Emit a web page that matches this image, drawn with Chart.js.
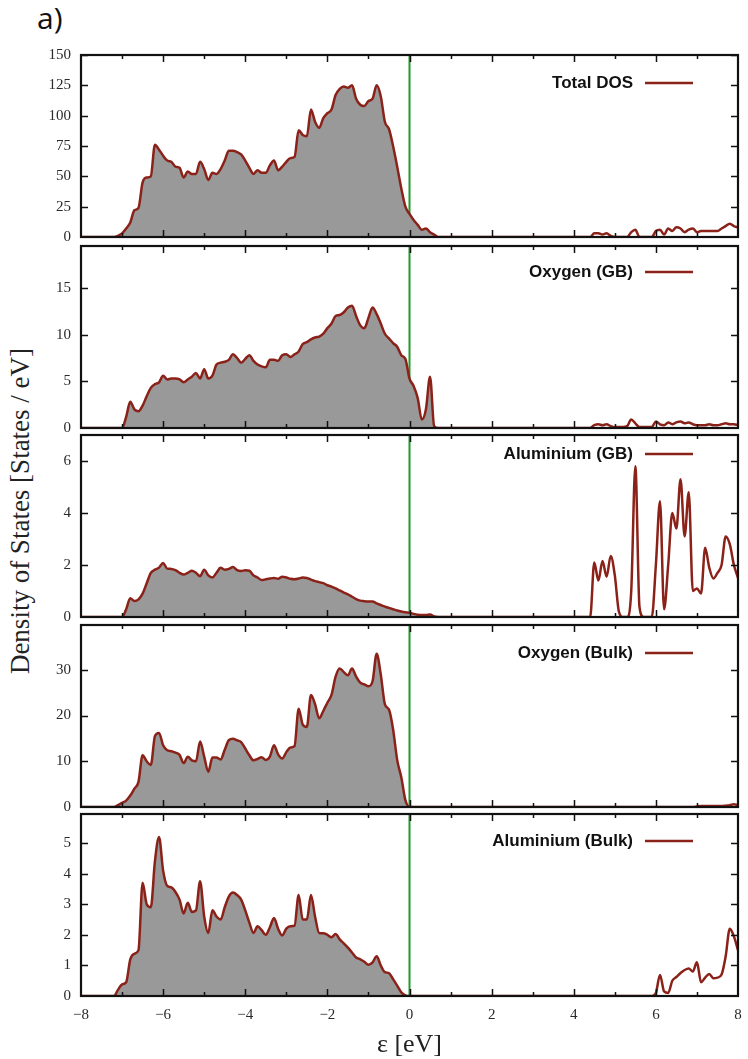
<!DOCTYPE html>
<html>
<head>
<meta charset="utf-8">
<title>Density of States</title>
<script src="https://cdn.jsdelivr.net/npm/chart.js@4.4.1/dist/chart.umd.min.js"></script>
<style>
  html, body { margin: 0; padding: 0; background: #fff; }
  #figure { position: relative; width: 748px; height: 1059px; overflow: hidden; }
  #figure canvas { position: absolute; left: 0; }
  #tag { position: absolute; left: 37px; top: 3px; font: 30px "Open Sans"; line-height: 30px; color: #111; }
  #ytitle {
    position: absolute; left: 20px; top: 511px; width: 420px; margin-left: -210px;
    text-align: center; white-space: nowrap;
    transform: translateY(-50%) rotate(-90deg);
    font: 27px "Liberation Serif"; color: #222;
  }
</style>
</head>
<body>
<div id="figure">
  <div id="tag">a)</div>
  <div id="ytitle">Density of States [States / eV]</div>
</div>
<script>
// energy grid, -8 .. 8 eV in 0.1 eV steps
const energies = [];
for (let i = 0; i <= 160; i++) energies.push((i - 80) / 10);

const fermiLevel = 0;
const fillEnd = 0.7; // grey area = occupied band, up to the gap

// DOS values, one per energy above
const totalDos = [
  0, 0, 0, 0, 0, 0, 0, 0, 0,                      // -8.0 .. -7.2
  1, 3, 7, 12, 22, 24, 45, 49, 50, 76,            // -7.1 .. -6.2
  72, 67, 63, 62, 58, 57, 49, 54, 52, 52,         // -6.1 .. -5.2
  62, 56, 47, 53, 52, 56, 63, 71, 71, 70,         // -5.1 .. -4.2
  68, 63, 57, 52, 55, 53, 53, 59, 63, 55,         // -4.1 .. -3.2
  58, 62, 65, 66, 88, 84, 83, 105, 95, 90,        // -3.1 .. -2.2
  98, 102, 105, 117, 122, 124, 123, 125, 114, 109, // -2.1 .. -1.2
  108, 112, 114, 125, 116, 95, 89, 75, 58, 40,    // -1.1 .. -0.2
  25, 19, 14, 10, 6, 7, 4, 2, 0,                  // -0.1 .. 0.7
  0, 0, 0, 0, 0, 0, 0, 0, 0, 0,                   // 0.8 .. 4.4
  0, 0, 0, 0, 0, 0, 0, 0, 0, 0,
  0, 0, 0, 0, 0, 0, 0, 0, 0, 0,
  0, 0, 0, 0, 0, 0, 0,
  3, 3, 2, 3, 1, 0, 0, 0, 0, 4,                   // 4.5 .. 5.4
  6, 0, 0, 0, 0, 5, 6, 2, 7, 5,                   // 5.5 .. 6.4
  8, 7, 4, 6, 7, 4, 5, 5, 5, 5,                   // 6.5 .. 7.4
  5, 7, 9, 11, 9, 8                               // 7.5 .. 8.0
];

const oxygenGB = [
  0, 0, 0, 0, 0, 0, 0, 0, 0,
  0, 0, 1.2, 2.8, 2.0, 1.8, 2.4, 3.4, 4.3, 4.7,
  4.9, 5.6, 5.2, 5.3, 5.3, 5.2, 4.9, 5.2, 5.5, 5.9,
  5.3, 6.3, 5.3, 5.6, 6.8, 7.0, 7.1, 7.3, 7.9, 7.5,
  7.0, 7.4, 7.8, 7.2, 6.8, 6.6, 6.5, 7.3, 7.3, 7.2,
  7.8, 7.9, 7.6, 7.9, 8.2, 9.0, 9.2, 9.5, 9.7, 9.8,
  10.1, 10.7, 11.2, 12.0, 12.1, 12.4, 12.9, 13.1, 12.0, 11.0,
  10.7, 11.8, 12.9, 12.2, 11.2, 10.1, 9.6, 9.1, 8.7, 7.8,
  7.4, 5.3, 4.5, 3.2, 0.9, 2.0, 5.5, 0.2, 0,
  0, 0, 0, 0, 0, 0, 0, 0, 0, 0,
  0, 0, 0, 0, 0, 0, 0, 0, 0, 0,
  0, 0, 0, 0, 0, 0, 0, 0, 0, 0,
  0, 0, 0, 0, 0, 0, 0,
  0.3, 0.4, 0.3, 0.4, 0.2, 0.1, 0.1, 0.1, 0.2, 0.9,
  0.5, 0.1, 0.1, 0.1, 0.1, 0.7, 0.4, 0.3, 0.6, 0.4,
  0.6, 0.7, 0.5, 0.6, 0.4, 0.3, 0.3, 0.3, 0.4, 0.3,
  0.3, 0.4, 0.5, 0.4, 0.4, 0.3
];

const aluminiumGB = [
  0, 0, 0, 0, 0, 0, 0, 0, 0,
  0, 0, 0.3, 0.72, 0.62, 0.68, 0.9, 1.3, 1.7, 1.82,
  1.9, 2.08, 1.86, 1.85, 1.8, 1.7, 1.63, 1.7, 1.78, 1.7,
  1.57, 1.82, 1.6, 1.52, 1.7, 1.89, 1.82, 1.85, 1.92, 1.8,
  1.77, 1.8, 1.78, 1.6, 1.52, 1.42, 1.45, 1.48, 1.5, 1.47,
  1.55, 1.52, 1.47, 1.45, 1.48, 1.52, 1.5, 1.44, 1.38, 1.34,
  1.3, 1.22, 1.17, 1.1, 1.02, 0.94, 0.87, 0.78, 0.69, 0.63,
  0.61, 0.6, 0.6, 0.52, 0.46, 0.4, 0.35, 0.3, 0.25, 0.21,
  0.18, 0.16, 0.12, 0.09, 0.08, 0.08, 0.1, 0.02, 0,
  0, 0, 0, 0, 0, 0, 0, 0, 0, 0,
  0, 0, 0, 0, 0, 0, 0, 0, 0, 0,
  0, 0, 0, 0, 0, 0, 0, 0, 0, 0,
  0, 0, 0, 0, 0, 0, 0,
  2.1, 1.4, 2.15, 1.55, 2.35, 1.6, 0.2, 0, 0, 1.0,
  5.8, 0.4, 0, 0, 0, 2.0, 4.45, 0.3, 2.0, 4.0,
  3.4, 5.3, 3.1, 4.8, 1.0, 1.1, 0.9, 2.66, 1.9, 1.48,
  1.7, 2.0, 3.1, 2.8, 2.0, 1.5
];

const oxygenBulk = [
  0, 0, 0, 0, 0, 0, 0, 0, 0,
  0.4, 0.9, 1.4, 2.5, 4.0, 5.5, 11.3, 10.0, 9.2, 15.5,
  16.2, 13.5, 12.4, 12.2, 11.9, 11.4, 9.6, 11.0, 10.2, 10.0,
  14.3, 11.0, 7.7, 10.8, 10.8, 10.4, 12.5, 14.6, 14.9, 14.6,
  14.2, 12.8, 11.3, 10.2, 10.5, 10.9, 10.3, 11.0, 13.5, 11.5,
  10.6, 12.0, 13.0, 13.3, 21.5, 18.0, 17.5, 24.5, 22.5, 19.4,
  21.0, 22.8, 24.5, 28.5, 30.3, 29.5, 28.8, 30.3, 28.5, 27.2,
  26.8, 26.4, 27.5, 33.5, 29.0, 22.5, 21.3, 17.0, 10.3, 6.5,
  1.5, 0, 0, 0, 0, 0, 0, 0, 0,
  0, 0, 0, 0, 0, 0, 0, 0, 0, 0,                   // 0.8 .. 6.9
  0, 0, 0, 0, 0, 0, 0, 0, 0, 0,
  0, 0, 0, 0, 0, 0, 0, 0, 0, 0,
  0, 0, 0, 0, 0, 0, 0, 0, 0, 0,
  0, 0, 0, 0, 0, 0, 0, 0, 0, 0,
  0, 0, 0, 0, 0, 0, 0, 0, 0, 0,
  0, 0,
  0.1, 0.2, 0.2, 0.2, 0.2, 0.2, 0.2, 0.3, 0.4, 0.6, // 7.0 .. 7.9
  0.4
];

const aluminiumBulk = [
  0, 0, 0, 0, 0, 0, 0, 0, 0,
  0.2, 0.38, 0.45, 1.2, 1.38, 1.5, 3.7, 3.0, 2.9, 4.4,
  5.2, 4.1, 3.6, 3.55, 3.4, 3.15, 2.7, 3.05, 2.75, 2.8,
  3.75, 2.6, 2.06, 2.8, 2.6, 2.5, 2.9, 3.25, 3.38, 3.3,
  3.15, 2.8, 2.4, 2.06, 2.28, 2.15, 2.0, 2.25, 2.55, 2.2,
  1.98, 2.2, 2.28, 2.3, 3.3, 2.5, 2.5, 3.3, 2.6, 2.06,
  2.05, 2.0, 1.92, 2.03, 1.85, 1.72, 1.58, 1.42, 1.26, 1.2,
  1.12, 1.02, 1.1, 1.3, 1.0, 0.78, 0.75, 0.55, 0.34, 0.12,
  0.02, 0, 0, 0, 0, 0, 0, 0, 0,
  0, 0, 0, 0, 0, 0, 0, 0, 0, 0,                   // 0.8 .. 5.9
  0, 0, 0, 0, 0, 0, 0, 0, 0, 0,
  0, 0, 0, 0, 0, 0, 0, 0, 0, 0,
  0, 0, 0, 0, 0, 0, 0, 0, 0, 0,
  0, 0, 0, 0, 0, 0, 0, 0, 0, 0,
  0, 0,
  0.1, 0.69, 0.15, 0.1, 0.5, 0.62, 0.75, 0.85, 0.9, 0.8, // 6.0 .. 6.9
  1.1, 0.45, 0.6, 0.72, 0.58, 0.6, 0.7, 1.3, 2.2, 1.95, // 7.0 .. 7.9
  1.5
];

const panelLabels = ["Total DOS", "Oxygen (GB)", "Aluminium (GB)", "Oxygen (Bulk)", "Aluminium (Bulk)"];
const panelSeries = [totalDos, oxygenGB, aluminiumGB, oxygenBulk, aluminiumBulk];
const yMax = [150, 19.5, 7, 39.8, 5.95];
const yStep = [25, 5, 2, 10, 1];

panelSeries.forEach((s, i) => {
  if (s.length !== energies.length) throw new Error(panelLabels[i] + ": " + s.length + " values");
});

// layout (pixels)
const panelTop = [55, 246, 435, 625, 814];
const panelH = 182;
const pad = 19; // y tick padding + half a label: chart.js keeps this much round the plot
const legendOffset = [28, 26, 19, 28, 27];

const lineColor = "#8b2219";

// green Fermi line, border, inward ticks and the key
const panelFrame = {
  id: "panelFrame",
  beforeDatasetsDraw(chart) {
    const { ctx, chartArea: a } = chart;
    const px = chart.scales.x.getPixelForValue(fermiLevel);
    ctx.save();
    ctx.strokeStyle = "#1e9a28";
    ctx.lineWidth = 2;
    ctx.beginPath();
    ctx.moveTo(px, a.top);
    ctx.lineTo(px, a.bottom);
    ctx.stroke();
    ctx.restore();
  },
  afterDraw(chart, args, opts) {
    const { ctx, chartArea: a } = chart;
    const x = chart.scales.x, y = chart.scales.y;
    ctx.save();
    ctx.strokeStyle = "#111";
    ctx.lineWidth = 1.5;
    ctx.beginPath();
    for (let v = -7; v <= 7; v++) {
      const px = Math.round(x.getPixelForValue(v)) + 0.5;
      const len = v % 2 === 0 ? 7 : 4;
      ctx.moveTo(px, a.top); ctx.lineTo(px, a.top + len);
      ctx.moveTo(px, a.bottom); ctx.lineTo(px, a.bottom - len);
    }
    y.ticks.forEach(t => {
      if (t.value <= 0) return;
      const py = Math.round(y.getPixelForValue(t.value)) + 0.5;
      ctx.moveTo(a.left, py); ctx.lineTo(a.left + 7, py);
      ctx.moveTo(a.right, py); ctx.lineTo(a.right - 7, py);
    });
    ctx.stroke();

    ctx.lineWidth = 2.2;
    ctx.strokeRect(a.left, a.top, a.right - a.left, a.bottom - a.top);

    const ly = a.top + opts.legendY;
    ctx.font = 'bold 17px "Liberation Sans"';
    ctx.fillStyle = "#111";
    ctx.textAlign = "right";
    ctx.textBaseline = "middle";
    ctx.fillText(opts.label, a.right - 105, ly);
    ctx.strokeStyle = lineColor;
    ctx.lineWidth = 2.5;
    ctx.beginPath();
    ctx.moveTo(a.right - 93, ly);
    ctx.lineTo(a.right - 45, ly);
    ctx.stroke();
    ctx.restore();
  }
};

Chart.defaults.font.family = '"Liberation Serif"';
Chart.defaults.color = "#2a2a2a";

const fig = document.getElementById("figure");

panelSeries.forEach((series, i) => {
  const last = i === panelSeries.length - 1;
  const top = panelTop[i] - pad;
  const h = last ? 1059 - top : panelH + 2 * pad;
  const canvas = document.createElement("canvas");
  canvas.width = 748;
  canvas.height = h;
  canvas.style.top = top + "px";
  canvas.style.width = "748px";
  canvas.style.height = h + "px";
  fig.appendChild(canvas);

  const points = energies.map((e, k) => ({ x: e, y: series[k] }));
  const occupied = points.filter(p => p.x <= fillEnd + 1e-9);

  new Chart(canvas, {
    type: "line",
    data: {
      datasets: [
        {
          label: panelLabels[i],
          data: points,
          borderColor: lineColor,
          borderWidth: 2.5,
          pointRadius: 0,
          fill: false,
          cubicInterpolationMode: "monotone",
          order: 0
        },
        {
          label: panelLabels[i] + " occupied",
          data: occupied,
          borderWidth: 0,
          borderColor: "rgba(0,0,0,0)",
          backgroundColor: "#999999",
          pointRadius: 0,
          fill: "origin",
          cubicInterpolationMode: "monotone",
          order: 1
        }
      ]
    },
    options: {
      responsive: false,
      animation: false,
      events: [],
      layout: { padding: { left: 0, right: 10, top: pad, bottom: last ? 0 : pad } },
      plugins: {
        legend: { display: false },
        tooltip: { enabled: false },
        panelFrame: { label: panelLabels[i], legendY: legendOffset[i] }
      },
      scales: {
        x: {
          type: "linear",
          min: -8,
          max: 8,
          display: last,
          grid: { display: false, drawTicks: false },
          border: { display: false },
          ticks: {
            stepSize: 2,
            padding: 10,
            font: { size: 15 },
            callback: v => String(v).replace("-", "\u2212")
          },
          title: {
            display: true,
            text: "ε [eV]",
            font: { size: 26, lineHeight: 1 },
            color: "#222",
            padding: { top: 0, bottom: 1 }
          },
          afterFit: s => {
            s.height = last ? 63 : 0;
            s.paddingLeft = 0;
            s.paddingRight = 0;
          }
        },
        y: {
          min: 0,
          max: yMax[i],
          grid: { display: false, drawTicks: false },
          border: { display: false },
          ticks: {
            stepSize: yStep[i],
            includeBounds: false,
            padding: 10,
            font: { size: 15 }
          },
          afterFit: s => { s.width = 81; }
        }
      }
    },
    plugins: [panelFrame]
  });
});
</script>
</body>
</html>
